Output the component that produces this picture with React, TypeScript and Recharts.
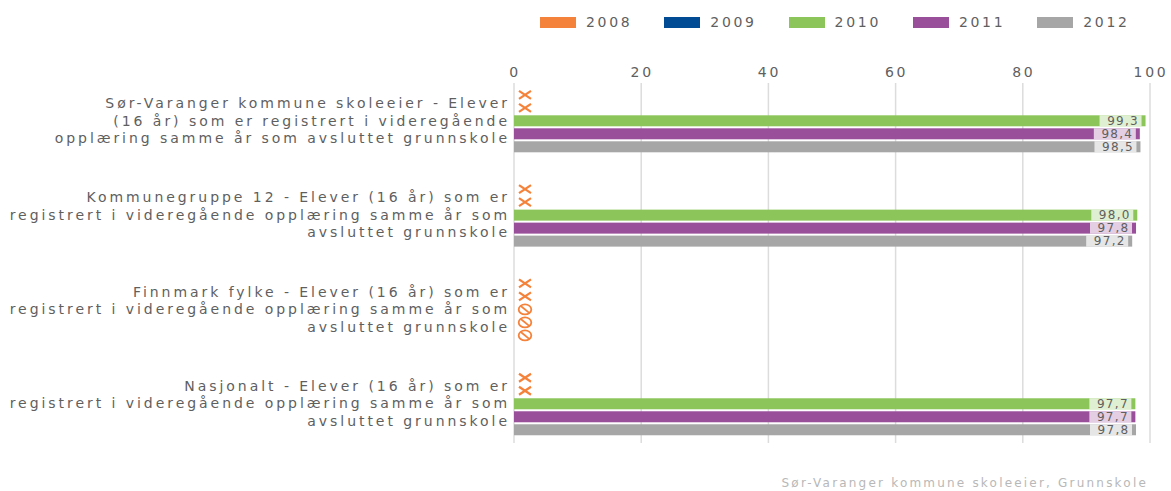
import React from 'react';
import { BarChart, Bar, XAxis, YAxis, CartesianGrid, Legend, Customized } from 'recharts';

const categories: string[] = [
  'Sør-Varanger kommune skoleeier - Elever\n(16 år) som er registrert i videregående\nopplæring samme år som avsluttet grunnskole',
  'Kommunegruppe 12 - Elever (16 år) som er\nregistrert i videregående opplæring samme år som\navsluttet grunnskole',
  'Finnmark fylke - Elever (16 år) som er\nregistrert i videregående opplæring samme år som\navsluttet grunnskole',
  'Nasjonalt - Elever (16 år) som er\nregistrert i videregående opplæring samme år som\navsluttet grunnskole',
];
const years: string[] = ['2008', '2009', '2010', '2011', '2012'];
const seriesColors: string[] = ['#F5823A', '#004B93', '#8CC65A', '#9A4F9B', '#A6A6A6'];
const values2008: (number | null)[] = [null, null, null, null];
const values2009: (number | null)[] = [null, null, null, null];
const values2010: (number | null)[] = [99.3, 98.0, null, 97.7];
const values2011: (number | null)[] = [98.4, 97.8, null, 97.7];
const values2012: (number | null)[] = [98.5, 97.2, null, 97.8];
const notCollectedYears: string[] = ['2008', '2009'];
const xTicks: number[] = [0, 20, 40, 60, 80, 100];
const sourceText = 'Sør-Varanger kommune skoleeier, Grunnskole';

const seriesValues: Record<string, (number | null)[]> = {
  '2008': values2008,
  '2009': values2009,
  '2010': values2010,
  '2011': values2011,
  '2012': values2012,
};

const data = categories.map((name, i) => {
  const row: any = { name };
  years.forEach((yr) => {
    row['y' + yr] = seriesValues[yr][i];
  });
  return row;
});

const FONT = 'DejaVu Sans, Verdana, sans-serif';
const TEXT = '#5f5f5f';
const MARK = '#F5823A';

const fmt = (v: number) => v.toFixed(1).replace('.', ',');

const makeShape = (yr: string, color: string) => (props: any) => {
  const { x, y, width, height, payload } = props;
  const v = payload ? payload['y' + yr] : null;
  if (v == null) {
    const cx = x + 11;
    const cy = y + height / 2;
    if (notCollectedYears.includes(yr)) {
      return (
        <g>
          <line x1={cx - 6} y1={cy - 4} x2={cx + 6} y2={cy + 4} stroke={MARK} strokeWidth={2.2} />
          <line x1={cx - 6} y1={cy + 4} x2={cx + 6} y2={cy - 4} stroke={MARK} strokeWidth={2.2} />
        </g>
      );
    }
    return (
      <g>
        <ellipse cx={cx} cy={cy} rx={6.3} ry={5} fill="none" stroke={MARK} strokeWidth={1.8} />
        <line x1={cx - 4.2} y1={cy - 3.4} x2={cx + 4.2} y2={cy + 3.4} stroke={MARK} strokeWidth={1.8} />
      </g>
    );
  }
  const end = x + width;
  return (
    <g>
      <rect x={x} y={y} width={width} height={height} fill={color} />
      <rect x={end - 46} y={y} width={42} height={height} fill="#ffffff" fillOpacity={0.72} />
      <text
        x={end - 6.5}
        y={y + height / 2}
        dy="0.36em"
        textAnchor="end"
        fontSize={12}
        letterSpacing={1.3}
        fill={TEXT}
        fontFamily={FONT}
      >
        {fmt(v)}
      </text>
    </g>
  );
};

const CategoryTick = (props: any) => {
  const { x, y, payload } = props;
  const lines = String(payload.value).split('\n');
  const lh = 17.5;
  const start = y - ((lines.length - 1) * lh) / 2;
  return (
    <text textAnchor="end" fill={TEXT} fontSize={14} letterSpacing={2.95} fontFamily={FONT}>
      {lines.map((l, i) => (
        <tspan key={i} x={x - 4} y={start + i * lh} dy="0.36em">
          {l}
        </tspan>
      ))}
    </text>
  );
};

const ValueTick = (props: any) => {
  const { x, y, payload } = props;
  return (
    <text x={x + 1} y={y + 4} textAnchor="middle" fill={TEXT} fontSize={14} letterSpacing={2.7} fontFamily={FONT}>
      {payload.value}
    </text>
  );
};

const LegendContent = () => (
  <div style={{ position: 'relative', width: 1171, height: 40 }}>
    {years.map((yr, i) => (
      <div
        key={yr}
        style={{ position: 'absolute', left: 540 + i * 124.3, top: 17, display: 'flex', alignItems: 'center', height: 11 }}
      >
        <span style={{ display: 'inline-block', width: 36, height: 11, background: seriesColors[i] }} />
        <span
          style={{ marginLeft: 10, fontSize: 14, letterSpacing: 2.7, color: TEXT, fontFamily: FONT, lineHeight: '11px' }}
        >
          {yr}
        </span>
      </div>
    ))}
  </div>
);

const GridLine = (p: any) => (
  <line
    key={`v-${p.index}-${p.x1}`}
    x1={p.x1}
    x2={p.x2}
    y1={p.y1 + 9.7}
    y2={p.y2 - 7.6}
    stroke="#dcdcdc"
    strokeWidth={1.5}
  />
);

const SourceNote = () => (
  <text x={1148} y={486.5} textAnchor="end" fill="#b8b8b8" fontSize={12} letterSpacing={2.2} fontFamily={FONT}>
    {sourceText}
  </text>
);

export default function App() {
  return (
    <div style={{ position: 'absolute', left: 0, top: 0, width: 1171, height: 491, background: '#fff' }}>
      <BarChart
        width={1171}
        height={491}
        data={data}
        layout="vertical"
        margin={{ top: 43.3, right: 21, bottom: 40.4, left: 0 }}
        barSize={11}
        barGap={2}
      >
        <CartesianGrid horizontal={false} vertical={GridLine as any} />
        <XAxis
          type="number"
          orientation="top"
          domain={[0, 100]}
          ticks={xTicks}
          interval={0}
          axisLine={false}
          tickLine={false}
          tickSize={0}
          tickMargin={0}
          height={30}
          tick={<ValueTick />}
        />
        <YAxis
          type="category"
          dataKey="name"
          width={514}
          interval={0}
          axisLine={false}
          tickLine={false}
          tickSize={0}
          tickMargin={0}
          tick={<CategoryTick />}
        />
        <Legend
          layout="horizontal"
          verticalAlign="middle"
          align="center"
          content={<LegendContent />}
          wrapperStyle={{ top: 0, left: 0, width: 1171, height: 40, margin: 0 }}
        />
        {years.map((yr, i) => (
          <Bar
            key={yr}
            name={yr}
            dataKey={(d: any) => (d['y' + yr] == null ? 0 : d['y' + yr])}
            fill={seriesColors[i]}
            isAnimationActive={false}
            shape={makeShape(yr, seriesColors[i])}
          />
        ))}
        <Customized component={SourceNote} />
      </BarChart>
    </div>
  );
}
